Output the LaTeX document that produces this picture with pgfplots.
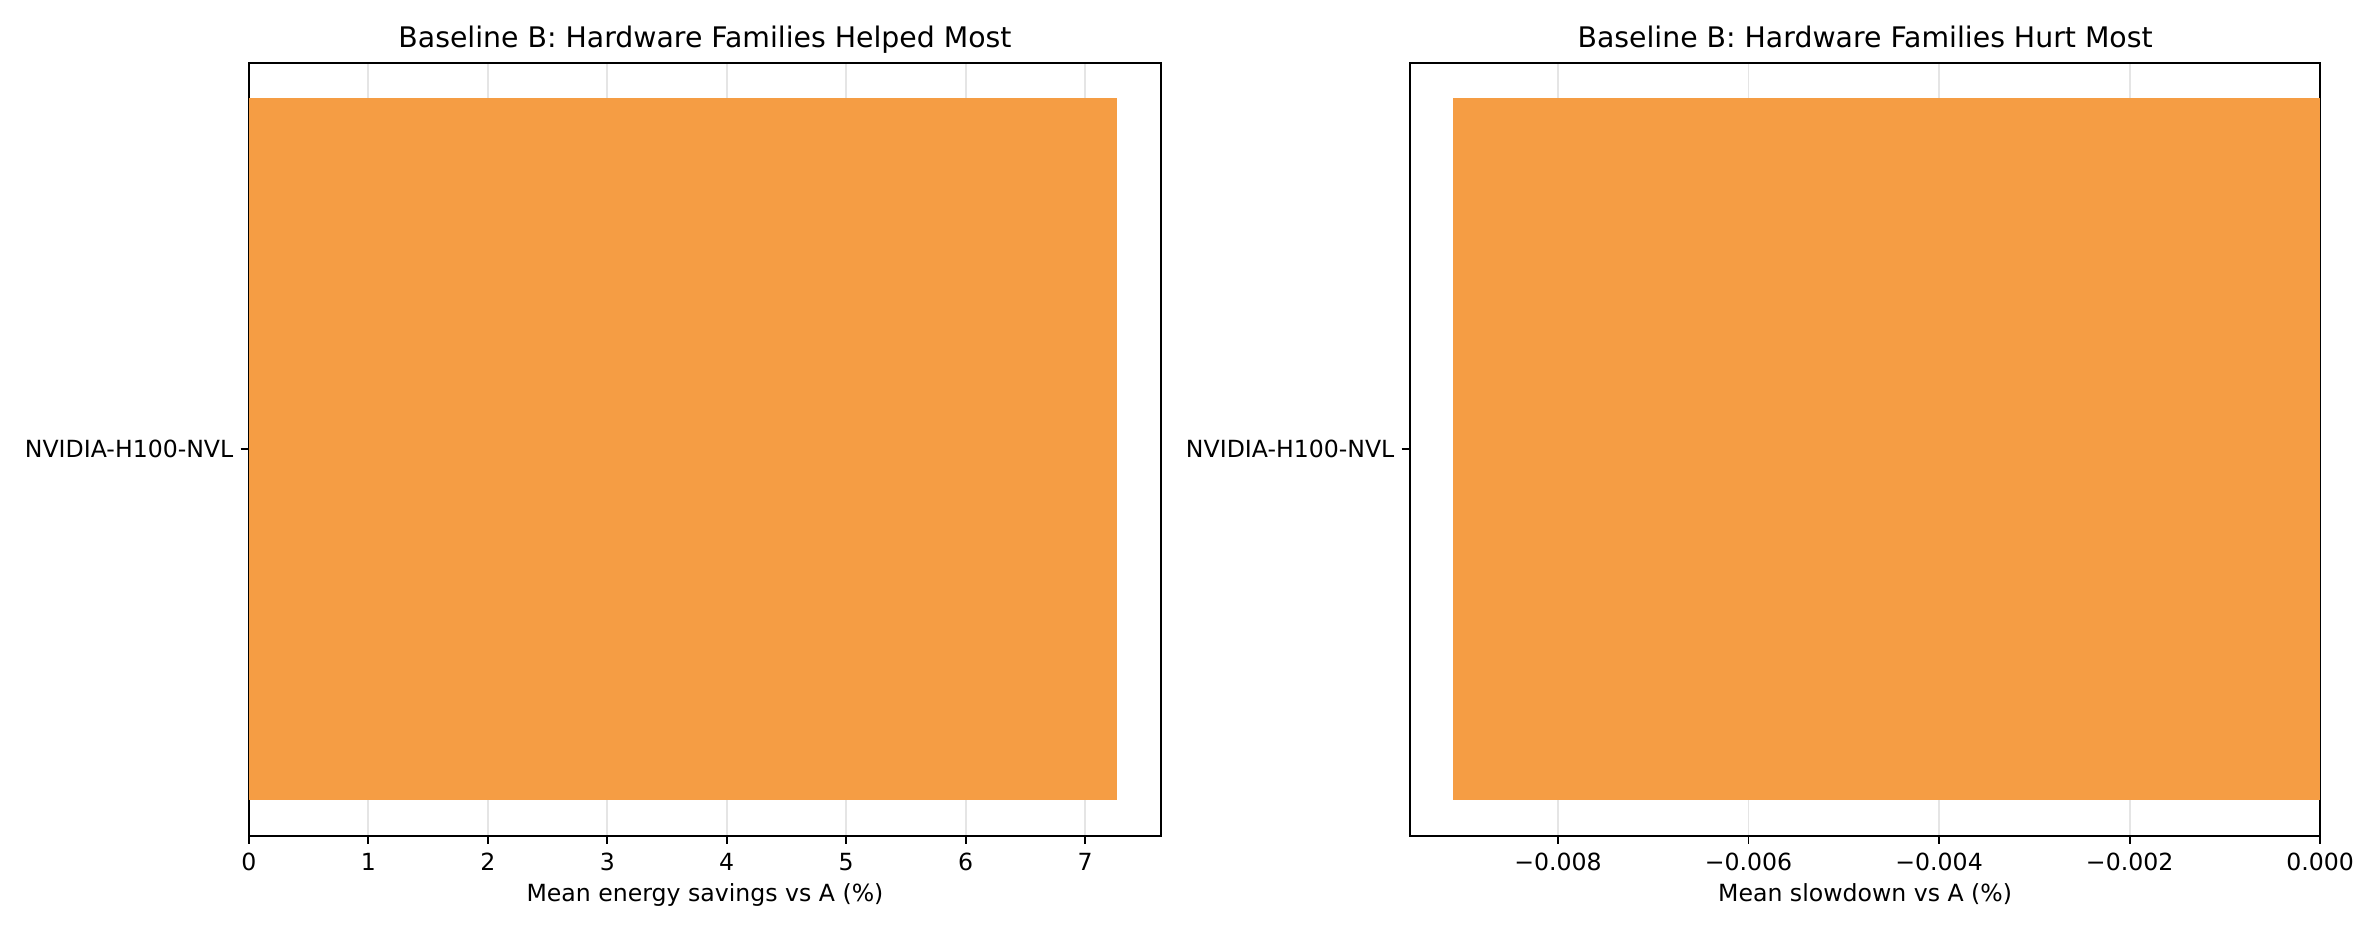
\documentclass[border=0pt]{standalone}
\usepackage{pgfplots}
\pgfplotsset{compat=1.18}
\usepackage{fontspec}
\setmainfont{DejaVu Sans}

\definecolor{barorange}{RGB}{245,157,68}

\pgfplotsset{
  hbar/.style={
    scale only axis,
    width=437.8pt, height=370.9pt,
    anchor=south west,
    xbar, bar width=0.8,
    ymin=-0.44, ymax=0.44,
    ytick={0}, yticklabels={NVIDIA-H100-NVL},
    xmajorgrids,
    grid style={line width=0.9pt, black!10},
    tick align=outside,
    xtick pos=bottom, ytick pos=left,
    major tick length=4pt,
    tick style={black, line width=0.9pt},
    axis line style={line width=0.9pt},
    scaled x ticks=false,
    /pgf/number format/assume math mode=true,
    ticklabel style={font=\fontsize{11.33}{13.6}\selectfont},
    xticklabel style={yshift=-1pt},
    label style={font=\fontsize{11.33}{13.6}\selectfont},
    xlabel style={yshift=1pt},
    title style={font=\fontsize{13.6}{16.3}\selectfont, at={(0.5,1)}, anchor=base, yshift=1.5pt},
  }
}

\begin{document}
\begin{tikzpicture}
\path[use as bounding box] (0,0) rectangle (1142.4pt,448.8pt);

% left panel: helped most
\begin{axis}[
    hbar,
    at={(119.5pt,47.7pt)},
    xmin=0, xmax=7.636,
    xtick={0,1,2,3,4,5,6,7},
    title={Baseline B: Hardware Families Helped Most},
    xlabel={Mean energy savings vs A (\%)},
]
\addplot[fill=barorange, draw=none] coordinates {(7.265,0)};
\end{axis}

% right panel: hurt most
\begin{axis}[
    hbar,
    at={(676.8pt,47.7pt)},
    width=436.9pt,
    xmin=-0.009553, xmax=0,
    xtick={-0.008,-0.006,-0.004,-0.002,0},
    xticklabels={−0.008,−0.006,−0.004,−0.002,0.000},
    title={Baseline B: Hardware Families Hurt Most},
    xlabel={Mean slowdown vs A (\%)},
]
\addplot[fill=barorange, draw=none] coordinates {(-0.0091,0)};
\end{axis}
\end{tikzpicture}
\end{document}
